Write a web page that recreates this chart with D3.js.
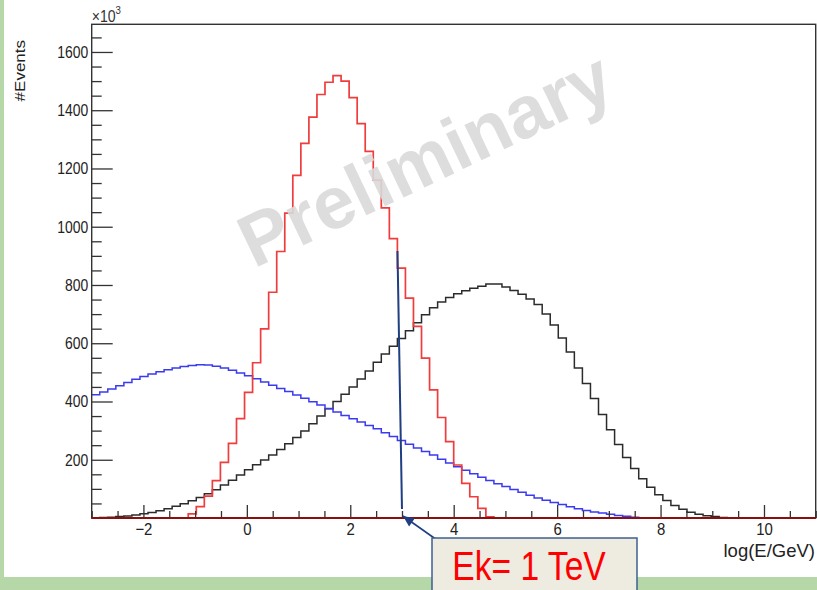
<!DOCTYPE html>
<html>
<head>
<meta charset="utf-8">
<script src="https://cdn.jsdelivr.net/npm/d3@7"></script>
<style>
  html, body { margin: 0; padding: 0; background: #fff; }
  svg { display: block; font-family: "Liberation Sans", Arial, Helvetica, sans-serif; }
</style>
</head>
<body>
<svg id="chart" width="817" height="590"></svg>
<script>
// Binning shared by the three histograms: 90 equal bins in log10(E/GeV)
const binRange = [-3, 11];
const nBins = 90;

// Bin contents, in units of 10^3 events
const blackCounts = [
  1, 2, 3, 5, 7, 10, 15, 19, 25, 32,
  40, 49, 59, 70, 83, 97, 113, 130, 148, 166,
  183, 199, 216, 235, 255, 276, 299, 324, 350, 375,
  400, 425, 450, 477, 505, 535, 563, 590, 616, 643,
  670, 698, 722, 742, 757, 770, 780, 789, 796, 803,
  803, 793, 781, 768, 752, 733, 700, 663, 618, 570,
  515, 462, 410, 355, 303, 252, 208, 170, 135, 106,
  80, 60, 43, 30, 20, 13, 8, 5, 2, 1,
  0, 0, 0, 0, 0, 0, 0, 0, 0, 0
];
const blueCounts = [
  423, 433, 443, 454, 465, 476, 486, 494, 502, 509,
  515, 520, 524, 526, 525, 521, 515, 507, 498, 488,
  478, 467, 456, 445, 434, 422, 411, 399, 388, 376,
  364, 352, 341, 330, 318, 306, 293, 280, 266, 253,
  240, 228, 216, 202, 189, 176, 164, 152, 140, 129,
  118, 108, 98, 88, 78, 69, 61, 53, 46, 39,
  32, 26, 21, 17, 13, 9, 6, 3, 1, 0,
  0, 0, 0, 0, 0, 0, 0, 0, 0, 0,
  0, 0, 0, 0, 0, 0, 0, 0, 0, 0
];
const redCounts = [
  0, 0, 0, 0, 0, 0, 0, 0, 0, 0,
  0, 0, 14, 39, 75, 128, 191, 256, 341, 431,
  533, 649, 775, 915, 1047, 1176, 1286, 1376, 1454, 1496,
  1519, 1500, 1443, 1354, 1259, 1160, 1065, 959, 858, 755,
  658, 549, 440, 345, 262, 182, 119, 73, 33, 4,
  0, 0, 0, 0, 0, 0, 0, 0, 0, 0,
  0, 0, 0, 0, 0, 0, 0, 0, 0, 0,
  0, 0, 0, 0, 0, 0, 0, 0, 0, 0,
  0, 0, 0, 0, 0, 0, 0, 0, 0, 0
];

const xMajorTicks = [-2, 0, 2, 4, 6, 8, 10];
const yMajorTicks = [200, 400, 600, 800, 1000, 1200, 1400, 1600];
const yMax = 1695;
const xTitle = "log(E/GeV)";
const yTitle = "#Events";
const markerLogE = 3;          // log10(1000 GeV)
const markerLabel = "Ek= 1 TeV";
const watermarkText = "Preliminary";

// ---- layout ----
const W = 817, H = 590;
const frame = { left: 91.7, right: 815.7, top: 24.3, bottom: 518 };
const squash = 0.82;   // narrow lettering of the axis labels

const svg = d3.select("#chart");

// page background with green slide border
svg.append("rect").attr("width", W).attr("height", H).attr("fill", "#ffffff");
svg.append("rect").attr("x", 0).attr("y", 0).attr("width", 4).attr("height", H).attr("fill", "#b6d7a8");
svg.append("rect").attr("x", 0).attr("y", 577).attr("width", W).attr("height", H - 577).attr("fill", "#b6d7a8");

const x = d3.scaleLinear().domain(binRange).range([frame.left, frame.right]);
const y = d3.scaleLinear().domain([0, yMax]).range([frame.bottom, frame.top]);

const binWidth = (binRange[1] - binRange[0]) / nBins;
const edge = i => binRange[0] + i * binWidth;

// ---- histograms (step outlines) ----
const stepLine = d3.line()
  .x(d => x(d[0]))
  .y(d => y(d[1]))
  .curve(d3.curveStepAfter);

function histPoints(counts) {
  const pts = counts.map((c, i) => [edge(i), c]);
  pts.push([edge(counts.length), counts[counts.length - 1]]);
  return pts;
}

const plot = svg.append("g");
plot.append("path").datum(histPoints(blackCounts))
  .attr("d", stepLine).attr("fill", "none")
  .attr("stroke", "#2b2b2b").attr("stroke-width", 1.5);
plot.append("path").datum(histPoints(blueCounts))
  .attr("d", stepLine).attr("fill", "none")
  .attr("stroke", "#3a3af0").attr("stroke-width", 1.5);
plot.append("path").datum(histPoints(redCounts))
  .attr("d", stepLine).attr("fill", "none")
  .attr("stroke", "#f03c3c").attr("stroke-width", 1.7);

// ---- axes ----
const tickColor = "#333";
const yMinor = d3.range(50, yMax, 50).filter(v => v % 200 !== 0);
const xMinor = d3.range(-3, 11.01, 0.5).filter(v => !xMajorTicks.includes(v));

function styleAxis(g) {
  g.select(".domain").remove();
  g.selectAll(".tick line").attr("stroke", tickColor).attr("stroke-width", 1.3);
}

const yAxisG = svg.append("g").attr("transform", `translate(${frame.left},0)`);
yAxisG.append("g")
  .call(d3.axisLeft(y).tickValues(yMinor).tickSizeInner(-10).tickSizeOuter(0).tickFormat(""))
  .call(styleAxis);
const yMajorG = yAxisG.append("g")
  .call(d3.axisLeft(y).tickValues(yMajorTicks).tickSizeInner(-21).tickSizeOuter(0)
    .tickPadding(4).tickFormat(d3.format("d")))
  .call(styleAxis);
yMajorG.selectAll(".tick text")
  .attr("font-size", 17).attr("fill", "#222")
  .attr("font-family", "Liberation Sans, Arial, sans-serif")
  .attr("x", -3.5 / squash)
  .attr("transform", `scale(${squash},1)`);

const xAxisG = svg.append("g").attr("transform", `translate(0,${frame.bottom})`);
xAxisG.append("g")
  .call(d3.axisBottom(x).tickValues(xMinor).tickSizeInner(-7).tickSizeOuter(0).tickFormat(""))
  .call(styleAxis);
const xMajorG = xAxisG.append("g")
  .call(d3.axisBottom(x).tickValues(xMajorTicks).tickSizeInner(-13).tickSizeOuter(0).tickPadding(5)
    .tickFormat(d => d < 0 ? "\u2212" + Math.abs(d) : String(d)))
  .call(styleAxis);
xMajorG.selectAll(".tick text")
  .attr("font-size", 17).attr("fill", "#222")
  .attr("font-family", "Liberation Sans, Arial, sans-serif")
  .attr("transform", `scale(0.88,1)`);

// frame
svg.append("rect")
  .attr("x", frame.left).attr("y", frame.top)
  .attr("width", frame.right - frame.left).attr("height", frame.bottom - frame.top)
  .attr("fill", "none").attr("stroke", "#333").attr("stroke-width", 1.4);
// darken the baseline where the red zero-bins run along it
svg.append("line")
  .attr("x1", frame.left).attr("x2", frame.right)
  .attr("y1", frame.bottom).attr("y2", frame.bottom)
  .attr("stroke", "#8a1010").attr("stroke-width", 2.2);

// axis titles
svg.append("text")
  .attr("transform", `translate(815,557)`)
  .attr("text-anchor", "end").attr("font-size", 18.5).attr("fill", "#222")
  .text(xTitle);
svg.append("text")
  .attr("transform", `translate(25,40) rotate(-90) scale(1,0.9)`)
  .attr("text-anchor", "end").attr("font-size", 17).attr("fill", "#222")
  .text(yTitle);

// exponent of the y axis
const expo = svg.append("text")
  .attr("transform", `translate(${frame.left},22) scale(0.88,1)`)
  .attr("font-size", 16).attr("fill", "#333");
expo.append("tspan").text("\u00d710");
expo.append("tspan").attr("font-size", 11).attr("dy", -8).text("3");

// ---- watermark ----
svg.append("text")
  .attr("transform", "translate(436,182) rotate(-25.5)")
  .attr("text-anchor", "middle")
  .attr("font-size", 74).attr("font-weight", "bold")
  .attr("fill", "#d9d9d9").attr("fill-opacity", 0.9)
  .text(watermarkText);

// ---- 1 TeV marker and callout ----
const navy = "#1f3f82";
const xm = x(markerLogE);
svg.append("line")
  .attr("x1", xm - 4.5).attr("y1", 251)
  .attr("x2", xm).attr("y2", 509)
  .attr("stroke", navy).attr("stroke-width", 2);

const box = { x: 432, y: 538, w: 205, h: 60 };
// arrow from the callout to the axis position of the marker
const ax0 = box.x + 5, ay0 = box.y + 2, ax1 = xm + 1, ay1 = frame.bottom - 2;
svg.append("line")
  .attr("x1", ax0).attr("y1", ay0).attr("x2", ax1).attr("y2", ay1)
  .attr("stroke", navy).attr("stroke-width", 1.6);
const ang = Math.atan2(ay1 - ay0, ax1 - ax0);
const hl = 11, hw = 5;
const bx = ax1 - hl * Math.cos(ang), by = ay1 - hl * Math.sin(ang);
svg.append("path")
  .attr("d", d3.line()([
    [ax1, ay1],
    [bx + hw * Math.sin(ang), by - hw * Math.cos(ang)],
    [bx - hw * Math.sin(ang), by + hw * Math.cos(ang)]
  ]) + "Z")
  .attr("fill", navy);

svg.append("rect")
  .attr("x", box.x).attr("y", box.y).attr("width", box.w).attr("height", box.h)
  .attr("fill", "#eeece1").attr("stroke", "#3d5f91").attr("stroke-width", 1.5);
svg.append("text")
  .attr("transform", `translate(${box.x + 97},580) scale(0.82,1)`)
  .attr("text-anchor", "middle").attr("font-size", 41).attr("fill", "#ff0000")
  .text(markerLabel);
</script>
</body>
</html>
